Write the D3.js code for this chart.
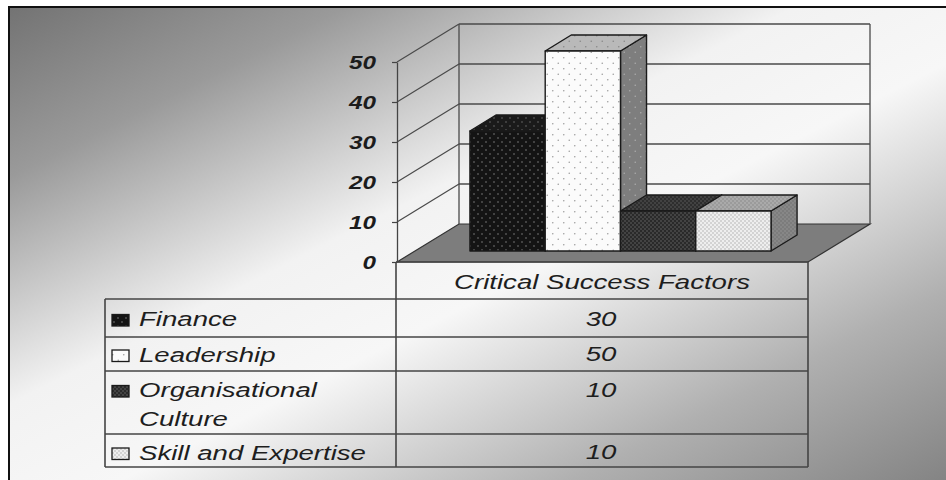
<!DOCTYPE html>
<html>
<head>
<meta charset="utf-8">
<script src="https://cdn.jsdelivr.net/npm/d3@7"></script>
<style>
  html, body { margin: 0; padding: 0; background: #fff; }
  svg { display: block; }
  text { font-family: "Liberation Sans", Arial, sans-serif; fill: #1e1e1e; }
</style>
</head>
<body>
<script>
// ---- data ----
const categories = ["Critical Success Factors"];
const seriesNames = ["Finance", "Leadership", "Organisational Culture", "Skill and Expertise"];
const seriesValues = [30, 50, 10, 10];
const legendLines = [["Finance"], ["Leadership"], ["Organisational", "Culture"], ["Skill and Expertise"]];
const yTicks = [0, 10, 20, 30, 40, 50];

const W = 946, H = 480;
const svg = d3.select("body").append("svg").attr("width", W).attr("height", H);
const defs = svg.append("defs");

// background gradient: dark corners top-left / bottom-right, light band across the middle
const bg = defs.append("linearGradient").attr("id", "bgGrad")
  .attr("gradientUnits", "userSpaceOnUse")
  .attr("x1", 9).attr("y1", 7).attr("x2", 390).attr("y2", 761);
[[0, "#737373"], [0.18, "#9a9a9a"], [0.42, "#f2f2f2"], [0.56, "#f7f7f7"], [0.8, "#b0b0b0"], [1, "#848484"]]
  .forEach(([o, c]) => bg.append("stop").attr("offset", o).attr("stop-color", c));

// dotted fill patterns
function dotPattern(id, base, dot, size, r) {
  const p = defs.append("pattern").attr("id", id).attr("patternUnits", "userSpaceOnUse")
    .attr("width", size).attr("height", size);
  p.append("rect").attr("width", size).attr("height", size).attr("fill", base);
  p.append("circle").attr("cx", size / 4).attr("cy", size / 4).attr("r", r).attr("fill", dot);
  p.append("circle").attr("cx", size * 3 / 4).attr("cy", size * 3 / 4).attr("r", r).attr("fill", dot);
}
dotPattern("finFront", "#141414", "#7c7c7c", 8, 0.8);
dotPattern("finTop", "#1a1a1a", "#6a6a6a", 8, 0.8);
dotPattern("leaFront", "#fbfbfb", "#a0a0a0", 11, 0.8);
dotPattern("leaTop", "#b9b9b9", "#888", 11, 0.8);
dotPattern("leaSide", "#7e7e7e", "#aaa", 11, 0.8);
dotPattern("orgFront", "#2a2a2a", "#707070", 4, 0.7);
dotPattern("orgTop", "#2e2e2e", "#666", 4, 0.7);
dotPattern("skiFront", "#eeeeee", "#a4a4a4", 4, 0.7);
dotPattern("skiTop", "#aaaaaa", "#808080", 4, 0.7);
dotPattern("skiSide", "#878787", "#686868", 4, 0.7);
const fills = [
  { front: "finFront", top: "finTop", side: "finTop" },
  { front: "leaFront", top: "leaTop", side: "leaSide" },
  { front: "orgFront", top: "orgTop", side: "orgTop" },
  { front: "skiFront", top: "skiTop", side: "skiSide" }
];

// frame
svg.append("rect").attr("x", 9).attr("y", 7).attr("width", W + 20).attr("height", H + 20)
  .attr("fill", "url(#bgGrad)").attr("stroke", "#111").attr("stroke-width", 2);

// ---- 3D plot geometry ----
const x0 = 397, x1 = 808;        // front floor edge
const depth = [62, -38];         // full depth vector of the plot box
const y = d3.scaleLinear().domain([0, 50]).range([262, 62]);
const cat = d3.scaleBand().domain(categories).range([x0, x1]);
const xs = d3.scaleBand().domain(seriesNames).range([cat(categories[0]), cat(categories[0]) + cat.bandwidth()])
  .paddingInner(0).paddingOuter(0.73);
const d0 = 0.29, d1 = 0.71;      // bar depth span (fraction of box depth)
const P = (px, py, d) => [px + depth[0] * d, py + depth[1] * d];
const pts = a => a.map(p => p.join(",")).join(" ");

const plot = svg.append("g");
const gridColor = "#4a4a4a";

// floor
plot.append("polygon")
  .attr("points", pts([[x0, y(0)], P(x0, y(0), 1), P(x1, y(0), 1), [x1, y(0)]]))
  .attr("fill", "#7d7d7d").attr("stroke", "#333").attr("stroke-width", 1.2);

// back wall outline and gridlines
const backL = P(x0, 0, 1)[0], backR = P(x1, 0, 1)[0];
plot.append("line").attr("x1", backL).attr("x2", backL)
  .attr("y1", P(0, y(50), 1)[1]).attr("y2", P(0, y(0), 1)[1])
  .attr("stroke", gridColor).attr("stroke-width", 1.3);
plot.append("line").attr("x1", backR).attr("x2", backR)
  .attr("y1", P(0, y(50), 1)[1]).attr("y2", P(0, y(0), 1)[1])
  .attr("stroke", gridColor).attr("stroke-width", 1.3);
plot.selectAll(".bgrid").data(yTicks.filter(t => t > 0)).join("line")
  .attr("x1", backL).attr("x2", backR)
  .attr("y1", d => P(0, y(d), 1)[1]).attr("y2", d => P(0, y(d), 1)[1])
  .attr("stroke", gridColor).attr("stroke-width", 1.3);
// side wall gridlines
plot.selectAll(".sgrid").data(yTicks.filter(t => t > 0)).join("line")
  .attr("x1", x0).attr("y1", d => y(d))
  .attr("x2", d => P(x0, y(d), 1)[0]).attr("y2", d => P(x0, y(d), 1)[1])
  .attr("stroke", gridColor).attr("stroke-width", 1.2);

// value axis
const axis = plot.append("g").attr("transform", `translate(${x0},0)`)
  .call(d3.axisLeft(y).tickValues(yTicks).tickSize(5).tickSizeOuter(0));
axis.select(".domain").attr("stroke", "#444").attr("stroke-width", 1.3);
axis.selectAll(".tick line").attr("stroke", "#444").attr("stroke-width", 1.2);
axis.selectAll(".tick text")
  .attr("x", 0).attr("dy", "0.36em")
  .attr("transform", "translate(-21,0) scale(1.35,1)")
  .style("font-size", "18px").style("font-weight", "bold").style("font-style", "italic")
  .style("fill", "#1c1c1c");

// bars, drawn left to right
seriesNames.forEach((name, i) => {
  const v = seriesValues[i];
  const bx0 = xs(name), bx1 = bx0 + xs.bandwidth();
  const fBL = P(bx0, y(0), d0), fBR = P(bx1, y(0), d0);
  const fTL = P(bx0, y(v), d0), fTR = P(bx1, y(v), d0);
  const bTL = P(bx0, y(v), d1), bTR = P(bx1, y(v), d1), bBR = P(bx1, y(0), d1);
  const g = plot.append("g").attr("stroke", "#1a1a1a").attr("stroke-width", 1.4).attr("stroke-linejoin", "round");
  g.append("polygon").attr("points", pts([fTR, bTR, bBR, fBR])).attr("fill", `url(#${fills[i].side})`);
  g.append("polygon").attr("points", pts([fTL, fTR, bTR, bTL])).attr("fill", `url(#${fills[i].top})`);
  g.append("polygon").attr("points", pts([fTL, fTR, fBR, fBL])).attr("fill", `url(#${fills[i].front})`);
});

// ---- data table ----
const tbl = svg.append("g");
const lineCol = "#444";
const colL = 105, colM = 396, colR = 808;
const rowY = [262, 299, 337, 371, 434, 467];
const baselines = [[326], [361.5], [397, 425.5], [459.5]];
const valueBase = [325.5, 361, 396.5, 459];
const sx = 1.38;

function hLine(xa, xb, yy) {
  tbl.append("line").attr("x1", xa).attr("x2", xb).attr("y1", yy).attr("y2", yy)
    .attr("stroke", lineCol).attr("stroke-width", 1.6);
}
function vLine(xx, ya, yb) {
  tbl.append("line").attr("x1", xx).attr("x2", xx).attr("y1", ya).attr("y2", yb)
    .attr("stroke", lineCol).attr("stroke-width", 1.6);
}
hLine(colM, colR, rowY[0]);
rowY.slice(1).forEach(r => hLine(colL, colR, r));
vLine(colL, rowY[1], rowY[5]);
vLine(colM, rowY[0], rowY[5]);
vLine(colR, rowY[0], rowY[5]);

function stretchedText(x, yy, str, anchor) {
  return tbl.append("text")
    .attr("transform", `translate(${x},${yy}) scale(${sx},1)`)
    .attr("text-anchor", anchor)
    .style("font-size", "20px").style("font-style", "italic")
    .text(str);
}

// category header
stretchedText((colM + colR) / 2, 289, categories[0], "middle");

// legend keys, names and values
seriesNames.forEach((name, i) => {
  const b = baselines[i][0];
  tbl.append("rect").attr("x", 112).attr("y", b - 11.5).attr("width", 17).attr("height", 11.5)
    .attr("fill", `url(#${fills[i].front})`).attr("stroke", "#1a1a1a").attr("stroke-width", 1.3);
  legendLines[i].forEach((ln, k) => stretchedText(139, baselines[i][k], ln, "start"));
  stretchedText(601, valueBase[i], String(seriesValues[i]), "middle");
});
</script>
</body>
</html>
